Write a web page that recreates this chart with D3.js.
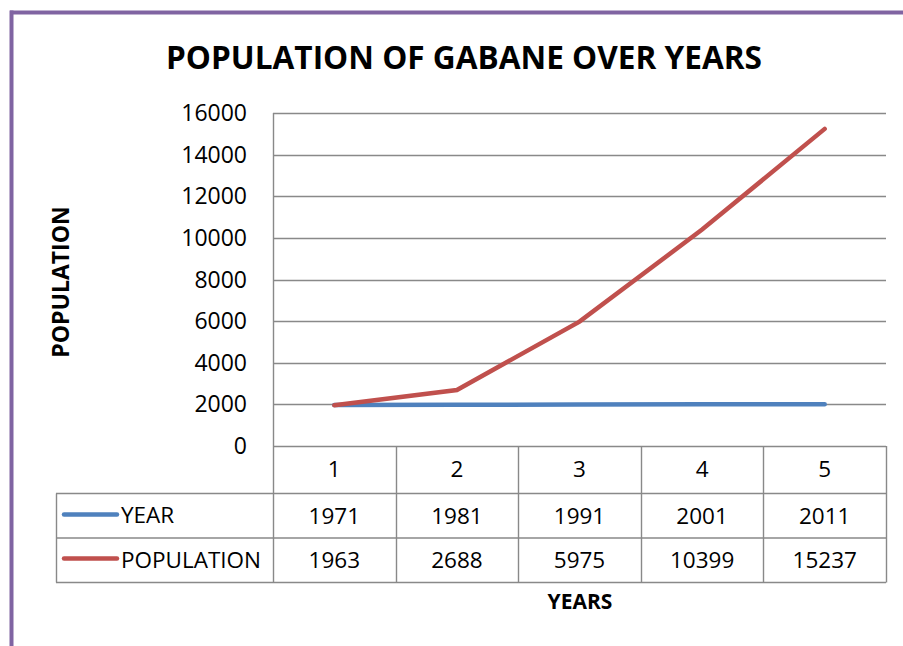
<!DOCTYPE html>
<html><head><meta charset="utf-8">
<script src="https://cdn.jsdelivr.net/npm/d3@7"></script>
<style>body{margin:0;background:#fff;}svg{display:block;font-family:"Open Sans","Noto Sans",sans-serif;}</style>
</head><body>
<script>
const categories = ["1","2","3","4","5"];
const yearValues = [1971,1981,1991,2001,2011];
const populationValues = [1963,2688,5975,10399,15237];
const yTicks = [0,2000,4000,6000,8000,10000,12000,14000,16000];
const seriesNames = ["YEAR","POPULATION"];
const seriesColors = ["#4F81BD","#C0504D"];

const W=903,H=646;
const svg=d3.select("body").append("svg").attr("width",W).attr("height",H);
// purple frame
svg.append("line").attr("x1",10).attr("x2",W).attr("y1",12.5).attr("y2",12.5).attr("stroke","#8064A2").attr("stroke-width",4);
svg.append("line").attr("x1",11.5).attr("x2",11.5).attr("y1",10.5).attr("y2",H).attr("stroke","#8064A2").attr("stroke-width",4);

const L=273,R=886,T=113,B=446;
const x=d3.scaleBand().domain(categories).range([L,R]);
const y=d3.scaleLinear().domain([0,16000]).range([B,T]);
const grid="#898989";

svg.append("text").attr("x",166).attr("y",69).attr("font-size",33).attr("font-weight","bold")
 .attr("textLength",596).attr("lengthAdjust","spacingAndGlyphs").text("POPULATION OF GABANE OVER YEARS");

// gridlines
svg.append("g").selectAll("line").data(yTicks).join("line")
 .attr("x1",L).attr("x2",R).attr("y1",d=>Math.round(y(d))+0.5).attr("y2",d=>Math.round(y(d))+0.5).attr("stroke",grid).attr("stroke-width",1.4);
svg.append("line").attr("x1",L+0.5).attr("x2",L+0.5).attr("y1",T).attr("y2",B).attr("stroke",grid).attr("stroke-width",1.4);
svg.append("g").selectAll("text").data(yTicks).join("text")
 .attr("x",247).attr("y",d=>y(d)+8).attr("text-anchor","end").attr("font-size",23).text(d=>d);

// axis title
svg.append("text").attr("transform","translate(69,282) rotate(-90)").attr("text-anchor","middle").attr("font-size",23).attr("font-weight","bold").text("POPULATION");

// table
const rows=[B,493.5,538,582.5];
const tg=svg.append("g").attr("stroke",grid).attr("stroke-width",1.4);
tg.append("line").attr("x1",56).attr("x2",R).attr("y1",rows[1]).attr("y2",rows[1]);
tg.append("line").attr("x1",56).attr("x2",R).attr("y1",rows[2]).attr("y2",rows[2]);
tg.append("line").attr("x1",56).attr("x2",R).attr("y1",rows[3]).attr("y2",rows[3]);
tg.append("line").attr("x1",56.5).attr("x2",56.5).attr("y1",rows[1]).attr("y2",rows[3]);
const vx=categories.map(c=>x(c)).concat([R]);
tg.selectAll("line.v").data(vx).join("line").attr("class","v")
 .attr("x1",d=>Math.round(d)+0.5).attr("x2",d=>Math.round(d)+0.5).attr("y1",B).attr("y2",rows[3]);

const cx=c=>x(c)+x.bandwidth()/2;
svg.append("g").selectAll("text").data(categories).join("text")
 .attr("x",d=>cx(d)).attr("y",477).attr("text-anchor","middle").attr("font-size",22.5).text(d=>d);
svg.append("g").selectAll("text").data(yearValues).join("text")
 .attr("x",(d,i)=>cx(categories[i])).attr("y",524).attr("text-anchor","middle").attr("font-size",22.5).text(d=>d);
svg.append("g").selectAll("text").data(populationValues).join("text")
 .attr("x",(d,i)=>cx(categories[i])).attr("y",568).attr("text-anchor","middle").attr("font-size",22.5).text(d=>d);

// legend keys
[0,1].forEach(i=>{
  const yy=[514.5,558.5][i];
  svg.append("line").attr("x1",64).attr("x2",117).attr("y1",yy).attr("y2",yy).attr("stroke",seriesColors[i]).attr("stroke-width",4.5).attr("stroke-linecap","round");
  svg.append("text").attr("x",121).attr("y",[523,568][i]).attr("font-size",22.5).text(seriesNames[i]);
});

// lines
const line=d3.line().x((d,i)=>cx(categories[i])).y(d=>y(d));
svg.append("path").datum(yearValues).attr("d",line).attr("fill","none").attr("stroke",seriesColors[0]).attr("stroke-width",4.5).attr("stroke-linecap","round");
svg.append("path").datum(populationValues).attr("d",line).attr("fill","none").attr("stroke",seriesColors[1]).attr("stroke-width",4.5).attr("stroke-linecap","round");

svg.append("text").attr("x",580).attr("y",609).attr("text-anchor","middle").attr("font-size",21).attr("font-weight","bold").text("YEARS");
</script>
</body></html>
